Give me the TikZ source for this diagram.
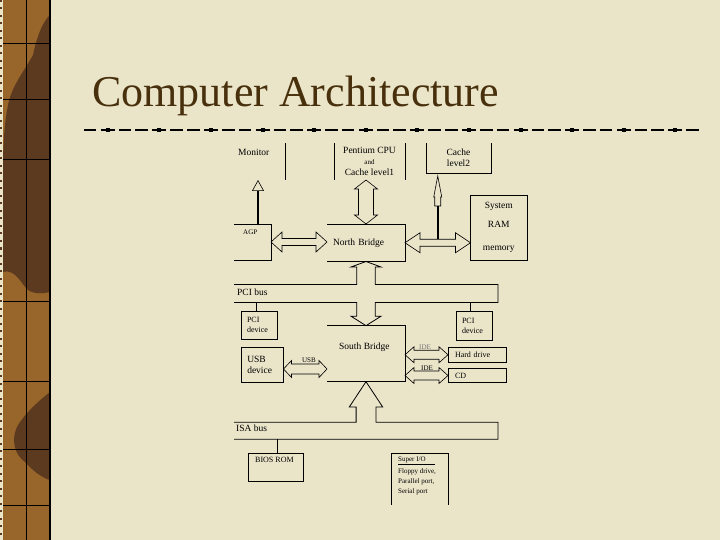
\documentclass[tikz,border=0pt]{standalone}
\usepackage{fontspec}
\setmainfont{Liberation Serif}
\usetikzlibrary{
  calc,
  positioning,
  arrows.meta
}
\definecolor{slidecream}{RGB}{234,228,201}
\definecolor{stripbrown}{RGB}{152,101,42}
\definecolor{stripdark}{RGB}{92,58,32}
\definecolor{titlebrown}{RGB}{72,48,12}
\newcommand\diagmain{\fontsize{9.5pt}{11pt}\selectfont}
\newcommand\diagsmall{\fontsize{8pt}{10pt}\selectfont}
\newcommand\diagtiny{\fontsize{7pt}{10pt}\selectfont}
% hollow double arrows: apex, apex, shaft half, head half, head length
\newcommand\blockh[5]{%
  \draw[blockarrow] (#1) -- ($(#1)+(#5,#4)$) -- ($(#1)+(#5,#3)$)
    -- ($(#2)+(-#5,#3)$) -- ($(#2)+(-#5,#4)$) -- (#2)
    -- ($(#2)+(-#5,-#4)$) -- ($(#2)+(-#5,-#3)$)
    -- ($(#1)+(#5,-#3)$) -- ($(#1)+(#5,-#4)$) -- cycle;}
\newcommand\blockv[5]{%
  \draw[blockarrow] (#1) -- ($(#1)+(#4,#5)$) -- ($(#1)+(#3,#5)$)
    -- ($(#2)+(#3,-#5)$) -- ($(#2)+(#4,-#5)$) -- (#2)
    -- ($(#2)+(-#4,-#5)$) -- ($(#2)+(-#3,-#5)$)
    -- ($(#1)+(-#3,#5)$) -- ($(#1)+(-#4,#5)$) -- cycle;}

\begin{document}
\begin{tikzpicture}[x=1pt,y=-1pt,>=Latex]
  \tikzset{
    box/.style={rectangle, draw, line width=0.8pt, inner sep=0pt,
      outer sep=0pt, anchor=north west, font=\diagmain},
    nobox/.style={box, draw=none},
    txt/.style={inner sep=0pt, font=\diagmain},
    small/.style={inner sep=0pt, font=\diagsmall},
    tiny/.style={inner sep=0pt, font=\diagtiny},
    wire/.style={line width=0.8pt},
    blockarrow/.style={line width=0.6pt, line join=miter},
  }
  % slide
  \fill[slidecream] (0,0) rectangle (720,540);
  \useasboundingbox (0,0) rectangle (720,540);
  \fill[stripbrown] (0,0) rectangle (50,540);
  \fill[stripdark] (50,15) .. controls (42,22) and (36,40) .. (33,55)
    .. controls (25,70) and (12,85) .. (8,105) .. controls (4,125) and (3,150) .. (3,165)
    -- (3,272) .. controls (15,268) and (22,285) .. (28,290)
    .. controls (35,295) and (45,293) .. (50,292) -- cycle;
  \fill[stripdark] (50,392) .. controls (40,400) and (28,410) .. (18,425)
    .. controls (10,440) and (15,455) .. (25,462) .. controls (32,470) and (42,478) .. (50,480) -- cycle;
  \draw[black, line width=0.8pt] (26,0) -- (26,540);
  \foreach \y in {43,99,159,301,381,449,505}
    \draw[black, line width=0.8pt] (3,\y) -- (50,\y);
  \draw[black, line width=2pt] (50,0) -- (50,540);
  \fill[slidecream] (0,0) rectangle (2.5,540);
  \draw[stripdark, line width=1.5pt, dash pattern=on 2pt off 5.5pt] (1.2,0) -- (1.2,540);

  \node[anchor=base west, inner sep=0pt, text=titlebrown,
    font=\fontsize{44pt}{48pt}\selectfont] (title) at (92,107) {Computer Architecture};

  % rule under the title
  \foreach \c in {107.8,159.4,...,676} {
    \fill (\c-2,128) rectangle (\c+2,132);
    \draw[line width=1.2pt] (\c-7,130) -- (\c+7,130);
    \draw[line width=1.2pt] (\c+11,130) -- (\c+23.5,130);
    \draw[line width=1.2pt] (\c-24,130) -- (\c-11.5,130);
  }

  % top row
  \node[nobox, minimum width=51pt, minimum height=37pt] (mon) at (234,143) {};
  \node[txt, anchor=west] (montext) at (238,152) {Monitor};
  \draw[wire] (mon.north east) -- (mon.south east);

  \node[nobox, minimum width=71pt, minimum height=37pt, align=center] (cpu) at (334,143)
    {Pentium CPU\\{\diagtiny and}\\Cache level1};
  \draw[wire] (cpu.north west) -- (cpu.south west) (cpu.north east) -- (cpu.south east);

  \node[nobox, minimum width=65pt, minimum height=30pt, align=center] (ctwo) at (426,143)
    {Cache\\level2};
  \draw[wire] (ctwo.north west) |- (ctwo.south east) -- (ctwo.north east);

  % north bridge level
  \node[nobox, minimum width=37pt, minimum height=36pt] (agp) at (234,224) {};
  \node[tiny, anchor=west] (agptext) at (243,232) {AGP};
  \draw[wire] (agp.north west) -- (agp.north east) -- (agp.south east) -- (agp.south west);

  \node[nobox, minimum width=78pt, minimum height=37.5pt, text width=66pt,
    inner xsep=6pt, align=left] (nb) at (327,224) {North Bridge};
  \draw[wire] (nb.north west) -- (nb.north east) -- (nb.south east) -- (nb.south west);

  \node[box, minimum width=56.5pt, minimum height=65pt, align=center] (ram) at (470.5,195)
    {System\\[8pt]RAM\\[12pt]memory};

  \draw[line width=1.2pt, -{Triangle[open, length=11pt, width=12pt, line width=0.6pt]}]
    ([xshift=5.5pt]agp.north) -- ([xshift=5.5pt]agp.north |- mon.south);

  \coordinate (agpin) at (agp.east -| nb.west);
  \blockh{agp.east}{agpin}{3.5}{10}{11}
  \coordinate (cpuout) at (cpu.south -| nb.north);
  \blockv{cpuout}{nb.north}{7.5}{11.5}{9}
  \coordinate (ramin) at (nb.east -| ram.west);
  \blockh{nb.east}{ramin}{3.5}{10}{15}

  \coordinate (tap) at ($(nb.east)!0.5!(ramin)$);
  \coordinate (cfoot) at (tap |- ctwo.south);
  \draw[line width=2.4pt] ([yshift=3.5pt]tap) -- ($(cfoot)+(0,33)$);
  \draw[blockarrow, fill=slidecream] ($(cfoot)+(0,3)$) -- ++(4,21) -- ++(-1,0) -- ++(0,9)
    -- ++(-6,0) -- ++(0,-9) -- ++(-1,0) -- cycle;

  % south bridge level
  \node[nobox, minimum width=78pt, minimum height=56pt] (sb) at (327,325.7) {};
  \node[txt, anchor=west] (sbtext) at (339,347) {South Bridge};
  \draw[wire] (sb.north west) -- (sb.north east) -- (sb.south east) -- (sb.south west);

  % PCI bus
  \draw[wire] (234,284.5) -| ($(nb.south)+(-9.25,5.5)$) -- ($(nb.south)+(-15,5.5)$)
    -- (nb.south) -- ($(nb.south)+(15,5.5)$) -- ($(nb.south)+(9.25,5.5)$)
    |- (498,284.5) -- (498,302.5) -| ($(sb.north)+(9.25,-9.5)$)
    -- ($(sb.north)+(15,-9.5)$) -- (sb.north) -- ($(sb.north)+(-15,-9.5)$)
    -- ($(sb.north)+(-9.25,-9.5)$) |- (234,302.5);
  \node[txt, anchor=west] (pcibus) at (237,292.5) {PCI bus};

  \node[box, minimum width=36pt, minimum height=28pt, text width=24pt, inner xsep=6pt,
    align=left, font=\diagsmall] (pcia) at (241,311) {PCI\\device};
  \draw[wire] ([xshift=-3pt]pcia.north) -- ++(0,-8.5);
  \node[box, minimum width=35.5pt, minimum height=29pt, text width=24pt, inner xsep=6pt,
    align=left, font=\diagsmall] (pcib) at (456,311) {PCI\\device};
  \draw[wire] ([xshift=-4pt]pcib.north) -- ++(0,-8.5);

  \node[box, minimum width=42.5pt, minimum height=35pt, text width=30pt, inner xsep=6.25pt,
    align=left] (usb) at (241,347.5) {USB\\device};
  \coordinate (usbout) at ([yshift=-4pt]usb.east);
  \coordinate (usbin) at (usbout -| sb.west);
  \blockh{usbout}{usbin}{5}{8.5}{8}
  \node[tiny, anchor=south] (usblabel) at (309,363) {USB};

  \node[box, minimum width=58pt, minimum height=14.5pt, text width=44pt, inner xsep=7pt,
    align=left, font=\diagsmall] (hdd) at (448,347.5) {Hard drive};
  \node[box, minimum width=58pt, minimum height=14pt, text width=44pt, inner xsep=7pt,
    align=left, font=\diagsmall] (cd) at (448,368.5) {CD};
  \coordinate (hddout) at (sb.east |- hdd.west);
  \blockh{hddout}{hdd.west}{4.5}{8}{9}
  \coordinate (cdout) at (sb.east |- cd.west);
  \blockh{cdout}{cd.west}{4.5}{8}{9}
  \node[tiny, anchor=south, text=black!55] (idea) at (425,349.5) {IDE};
  \node[tiny, anchor=south] (ideb) at (427,371) {IDE};

  % ISA bus
  \draw[wire] (234,422.3) -| ($(sb.south)+(-9.9,25.3)$) -- ++(-6.8,0) -- (sb.south)
    -- ($(sb.south)+(16.7,25.3)$) -- ++(-6.8,0) |- (498,422.3) -- (498,439.3) -- (234,439.3);
  \node[txt, anchor=west] (isabus) at (236,428) {ISA bus};

  \node[box, minimum width=55pt, minimum height=28.5pt] (bios) at (248,453) {};
  \node[small, anchor=west] (biostext) at (255,460) {BIOS ROM};
  \draw[wire] ([xshift=1.5pt]bios.north) -- ++(0,-13.7);

  \node[nobox, minimum width=56.5pt, minimum height=52pt] (sio) at (391.7,453) {};
  \draw[wire] (sio.south west) |- (sio.north east) -- (sio.south east);
  \node[tiny, anchor=base west] (siohead) at (398,461) {Super I/O};
  \draw[line width=0.6pt] (siohead.south west) ++(0,1.5) -- ++(37,0);
  \node[tiny, anchor=north west, align=left] (siotext) at (398,468)
    {Floppy drive,\\Parallel port,\\Serial port};
\end{tikzpicture}
\end{document}
